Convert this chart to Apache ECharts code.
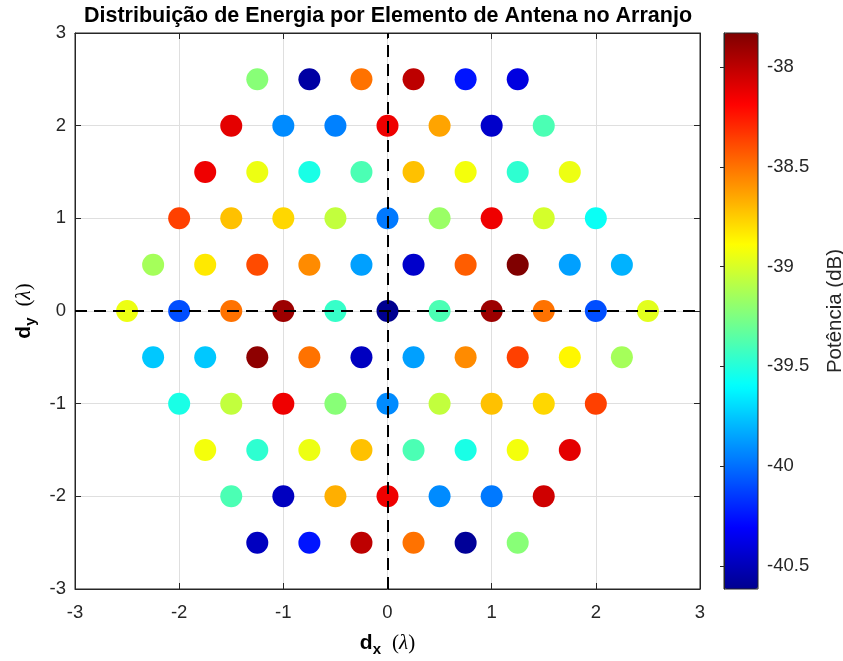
<!DOCTYPE html>
<html><head><meta charset="utf-8">
<script src="https://cdn.jsdelivr.net/npm/echarts@6/dist/echarts.min.js"></script>
<style>html,body{margin:0;padding:0;background:#fff}#c{width:843px;height:661px}</style>
</head><body><div id="c"></div>
<script>
// ---- data ----
const titleText = 'Distribuição de Energia por Elemento de Antena no Arranjo';
const xTicks = [-3, -2, -1, 0, 1, 2, 3];
const yTicks = [-3, -2, -1, 0, 1, 2, 3];
const cbarMin = -40.615;
const cbarMax = -37.83;
const cbarTicks = [-40.5, -40, -39.5, -39, -38.5, -38];
const cbarLabel = 'Potência (dB)';

// element rows (y in λ), x positions per row and power per element (dB)
const rowY = [2.5, 2, 1.5, 1, 0.5, 0, -0.5, -1, -1.5, -2, -2.5];
const rowX = [
  [-1.25, -0.75, -0.25, 0.25, 0.75, 1.25],
  [-1.5, -1, -0.5, 0, 0.5, 1, 1.5],
  [-1.75, -1.25, -0.75, -0.25, 0.25, 0.75, 1.25, 1.75],
  [-2, -1.5, -1, -0.5, 0, 0.5, 1, 1.5, 2],
  [-2.25, -1.75, -1.25, -0.75, -0.25, 0.25, 0.75, 1.25, 1.75, 2.25],
  [-2.5, -2, -1.5, -1, -0.5, 0, 0.5, 1, 1.5, 2, 2.5],
  [-2.25, -1.75, -1.25, -0.75, -0.25, 0.25, 0.75, 1.25, 1.75, 2.25],
  [-2, -1.5, -1, -0.5, 0, 0.5, 1, 1.5, 2],
  [-1.75, -1.25, -0.75, -0.25, 0.25, 0.75, 1.25, 1.75],
  [-1.5, -1, -0.5, 0, 0.5, 1, 1.5],
  [-1.25, -0.75, -0.25, 0.25, 0.75, 1.25]
];
const rowPower = [
  [-39.22, -40.56, -38.50, -38.00, -40.25, -40.39],
  [-38.11, -39.92, -39.95, -38.14, -38.64, -40.45, -39.39],
  [-38.14, -38.94, -39.53, -39.39, -38.72, -38.92, -39.47, -38.94],
  [-38.36, -38.72, -38.78, -39.06, -39.97, -39.17, -38.14, -39.01, -39.57],
  [-39.14, -38.83, -38.39, -38.57, -39.86, -40.45, -38.44, -37.83, -39.86, -39.81],
  [-38.94, -40.09, -38.50, -37.91, -39.45, -40.615, -39.39, -37.91, -38.50, -40.09, -38.97],
  [-39.75, -39.75, -37.87, -38.50, -40.48, -39.86, -38.57, -38.36, -38.87, -39.14],
  [-39.53, -39.06, -38.14, -39.22, -39.92, -39.06, -38.72, -38.78, -38.36],
  [-38.92, -39.47, -38.94, -38.72, -39.39, -39.53, -38.92, -38.11],
  [-39.39, -40.48, -38.67, -38.14, -39.92, -39.97, -38.05],
  [-40.48, -40.25, -38.00, -38.50, -40.59, -39.22]
];

// ---- build ----
const points = [];
rowY.forEach((y, i) => rowX[i].forEach((x, j) => points.push([x, y, rowPower[i][j]])));

function jet(m) {
  const n = Math.ceil(m / 4), u = [];
  for (let i = 1; i <= n; i++) u.push(i / n);
  for (let i = 1; i < n; i++) u.push(1);
  for (let i = n; i >= 1; i--) u.push(i / n);
  const gOff = Math.ceil(n / 2) - (m % 4 === 1 ? 1 : 0);
  const J = [];
  for (let i = 0; i < m; i++) J.push([0, 0, 0]);
  for (let k = 0; k < u.length; k++) {
    const g = gOff + k + 1, r = g + n, b = g - n;
    if (r >= 1 && r <= m) J[r - 1][0] = u[k];
    if (g >= 1 && g <= m) J[g - 1][1] = u[k];
    if (b >= 1 && b <= m) J[b - 1][2] = u[k];
  }
  return J.map(c => 'rgb(' + c.map(v => Math.round(v * 255)).join(',') + ')');
}
const jetColors = jet(64);

const AX = '#262626';
const FONT = 'Liberation Sans';
const tickFont = { color: AX, fontSize: 18.5, fontFamily: FONT };
const nameRich = {
  d: { fontSize: 21, fontWeight: 'bold', fontFamily: FONT, color: '#000' },
  s: { fontSize: 15, fontWeight: 'bold', fontFamily: FONT, color: '#000', padding: [13, 0, 0, 0] },
  sp: { fontSize: 21, width: 11 },
  l: { fontSize: 21, fontFamily: 'Liberation Serif', color: '#000' },
  li: { fontSize: 21, fontFamily: 'Liberation Serif', fontStyle: 'italic', color: '#000' }
};

const chart = echarts.init(document.getElementById('c'), null, { renderer: 'canvas' });
chart.setOption({
  animation: false,
  backgroundColor: '#ffffff',
  title: {
    text: titleText, left: 388, top: 5, textAlign: 'center', padding: 0,
    textStyle: { fontSize: 21.5, fontWeight: 'bold', color: '#000', fontFamily: FONT }
  },
  grid: [
    { left: 75, top: 33, width: 625, height: 556, show: true, borderColor: AX, borderWidth: 1, backgroundColor: 'transparent', containLabel: false, outerBoundsMode: 'none' },
    { left: 724, top: 33, width: 34, height: 556, show: true, borderColor: AX, borderWidth: 1, backgroundColor: 'transparent', z: 10, containLabel: false, outerBoundsMode: 'none' }
  ],
  xAxis: [
    {
      gridIndex: 0, type: 'value', min: xTicks[0], max: xTicks[xTicks.length - 1], interval: 1,
      axisLine: { show: true, onZero: false, lineStyle: { color: AX } },
      axisTick: { show: true, inside: true, length: 6, lineStyle: { color: AX } },
      axisLabel: Object.assign({ margin: 14, customValues: xTicks }, tickFont),
      splitLine: { show: true, lineStyle: { color: '#dfdfdf', width: 1 } },
      name: '{d|d}{s|x}{sp| }{l|(}{li|λ}{l|)}', nameLocation: 'middle', nameGap: 40,
      nameTextStyle: { rich: nameRich }
    },
    {
      gridIndex: 0, type: 'value', position: 'top', min: xTicks[0], max: xTicks[xTicks.length - 1], interval: 1,
      axisLine: { show: true, onZero: false, lineStyle: { color: AX } },
      axisTick: { show: true, inside: true, length: 6, lineStyle: { color: AX } },
      axisLabel: { show: false }, splitLine: { show: false }
    },
    { gridIndex: 1, type: 'value', min: 0, max: 1, show: false }
  ],
  yAxis: [
    {
      gridIndex: 0, type: 'value', min: yTicks[0], max: yTicks[yTicks.length - 1], interval: 1,
      axisLine: { show: true, onZero: false, lineStyle: { color: AX } },
      axisTick: { show: true, inside: true, length: 6, lineStyle: { color: AX } },
      axisLabel: Object.assign({ margin: 9, customValues: yTicks }, tickFont),
      splitLine: { show: true, lineStyle: { color: '#dfdfdf', width: 1 } },
      name: '{d|d}{s|y}{sp| }{l|(}{li|λ}{l|)}', nameLocation: 'middle', nameGap: 33, nameRotate: 90,
      nameTextStyle: { rich: nameRich }
    },
    {
      gridIndex: 0, type: 'value', position: 'right', min: yTicks[0], max: yTicks[yTicks.length - 1], interval: 1,
      axisLine: { show: true, onZero: false, lineStyle: { color: AX } },
      axisTick: { show: true, inside: true, length: 6, lineStyle: { color: AX } },
      axisLabel: { show: false }, splitLine: { show: false }
    },
    {
      gridIndex: 1, type: 'value', position: 'right', min: cbarMin, max: cbarMax, z: 10,
      axisLine: { show: true, lineStyle: { color: AX } },
      axisTick: { show: true, inside: true, length: 4, customValues: cbarTicks, lineStyle: { color: AX } },
      axisLabel: Object.assign({ margin: 9, customValues: cbarTicks }, tickFont),
      splitLine: { show: false },
      name: cbarLabel, nameLocation: 'middle', nameRotate: 90, nameGap: 67,
      nameTextStyle: { fontSize: 20.5, color: AX, fontFamily: FONT }
    }
  ],
  visualMap: {
    type: 'continuous', min: cbarMin, max: cbarMax, seriesIndex: 1, dimension: 2,
    left: 724, top: 33, itemWidth: 34, itemHeight: 556, padding: 0,
    calculable: false, hoverLink: false, realtime: false,
    inRange: { color: jetColors }, textStyle: { color: 'transparent' }
  },
  series: [
    {
      type: 'scatter', xAxisIndex: 0, yAxisIndex: 0, data: [], z: 1, silent: true,
      markLine: {
        silent: true, symbol: ['none', 'none'], label: { show: false }, animation: false,
        lineStyle: { color: '#000', width: 2, type: [12, 7] },
        emphasis: { disabled: true },
        data: [{ xAxis: 0 }, { yAxis: 0 }]
      }
    },
    {
      type: 'scatter', xAxisIndex: 0, yAxisIndex: 0, data: points, z: 3,
      symbol: 'circle', symbolSize: 22, itemStyle: { opacity: 1, borderWidth: 0 }
    }
  ]
});
</script>
</body></html>
